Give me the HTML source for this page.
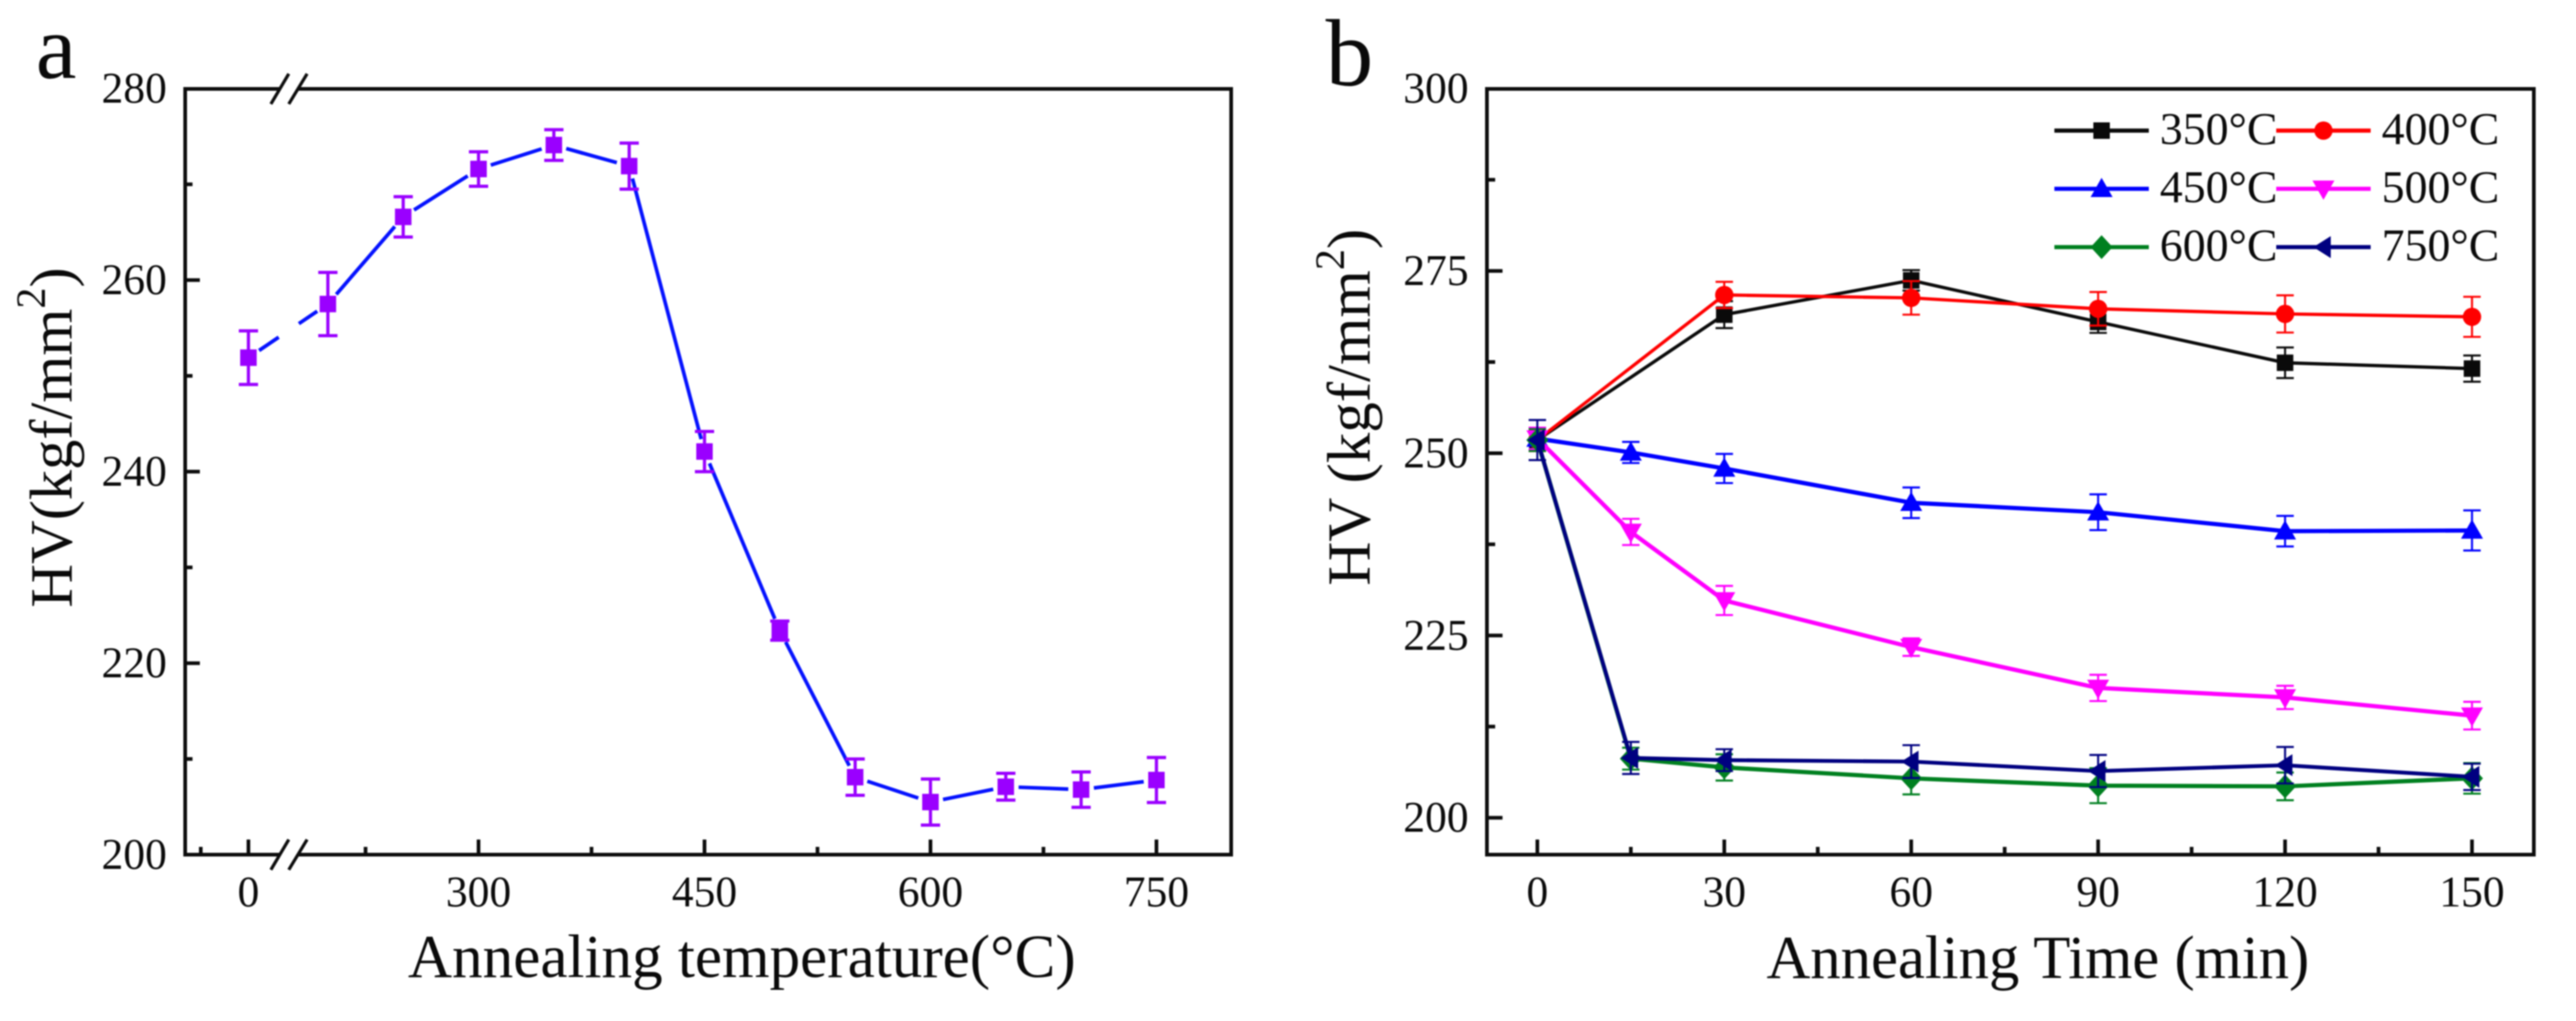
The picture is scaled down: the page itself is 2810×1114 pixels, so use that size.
<!DOCTYPE html>
<html lang="en">
<head>
<meta charset="utf-8">
<title>HV hardness vs annealing temperature and time</title>
<style>
html,body{margin:0;padding:0;background:#fff;width:2810px;height:1114px;overflow:hidden}
svg{display:block;filter:blur(0.7px)}
text{font-family:"Liberation Serif",serif;fill:#0a0a0a}
</style>
</head>
<body>
<svg id="figure" xmlns="http://www.w3.org/2000/svg" width="2810" height="1114" viewBox="0 0 2810 1114">
  <rect width="2810" height="1114" fill="#fff"/>
  <text x="39" y="85" font-size="100">a</text>
  <text x="1446" y="93" font-size="104">b</text>
  <text x="445" y="1066" font-size="66.7">Annealing temperature(°C)</text>
  <text x="1927" y="1067" font-size="66.2">Annealing Time (min)</text>
  <text transform="translate(78 663) rotate(-90)" font-size="66">HV(kgf/mm<tspan font-size="46" dy="-29">2</tspan><tspan dy="29">)</tspan></text>
  <text transform="translate(1494 639) rotate(-90)" font-size="66.5">HV (kgf/mm<tspan font-size="46" dy="-28">2</tspan><tspan dy="28">)</tspan></text>
  <g id="panel-a"></g>
  <g id="panel-b"></g>
</svg>
<script>
// ---- Panel a data ----
const tempCategories = [0, 200, 250, 300, 350, 400, 450, 500, 550, 600, 650, 700, 750];
const tempValues = [251.9, 257.5, 266.6, 271.6, 274.1, 271.9, 242.1, 223.4, 208.1, 205.5, 207.1, 206.8, 207.8];
const tempErrors = [2.8, 3.3, 2.1, 1.8, 1.6, 2.4, 2.1, 1.0, 1.9, 2.4, 1.4, 1.85, 2.35];
const tempYTickLabels = [200, 220, 240, 260, 280];
const tempYMinorTicks = [210, 230, 250, 270];
const tempXTickLabels = [0, 300, 450, 600, 750];
const tempXMinorTicks = [-75, 225, 375, 525, 675];

// ---- Panel b data ----
const seriesNames = ['350°C', '400°C', '450°C', '500°C', '600°C', '750°C'];
const times350 = [0, 30, 60, 90, 120, 150];
const values350 = [251.8, 269.0, 273.7, 268.0, 262.4, 261.6];
const errors350 = [1.5, 1.85, 1.4, 1.5, 2.1, 1.8];
const times400 = [0, 30, 60, 90, 120, 150];
const values400 = [251.8, 271.7, 271.3, 269.8, 269.1, 268.7];
const errors400 = [1.5, 1.8, 2.3, 2.3, 2.55, 2.75];
const times450 = [0, 15, 30, 60, 90, 120, 150];
const values450 = [252.0, 250.1, 247.9, 243.2, 241.9, 239.3, 239.4];
const errors450 = [1.5, 1.45, 2.0, 2.1, 2.45, 2.1, 2.75];
const times500 = [0, 15, 30, 60, 90, 120, 150];
const values500 = [252.0, 239.2, 229.8, 223.4, 217.8, 216.5, 214.0];
const errors500 = [1.5, 1.8, 2.0, 1.2, 1.8, 1.6, 1.9];
const times600 = [0, 15, 30, 60, 90, 120, 150];
const values600 = [251.8, 208.1, 206.9, 205.4, 204.4, 204.3, 205.4];
const errors600 = [1.5, 1.5, 1.8, 2.2, 2.4, 1.9, 2.1];
const times750 = [0, 15, 30, 60, 90, 120, 150];
const values750 = [251.8, 208.2, 207.9, 207.7, 206.4, 207.2, 205.6];
const errors750 = [2.75, 2.2, 1.5, 2.25, 2.2, 2.5, 1.8];
const timeYTickLabels = [200, 225, 250, 275, 300];
const timeYMinorTicks = [212.5, 237.5, 262.5, 287.5];
const timeXTickLabels = [0, 30, 60, 90, 120, 150];
const timeXMinorTicks = [15, 45, 75, 105, 135];

// ---- Axis functions ----
const NS = 'http://www.w3.org/2000/svg';
function xA(v) { return v < 100 ? 271 + v * 0.6933 : 522 + (v - 300) * 1.6433; }
function yA(v) { return 932.6 - (v - 200) * 10.45; }
function xB(v) { return 1677 + v * 6.797; }
function yB(v) { return 892.2 - (v - 200) * 7.955; }

function make(parent, tag, attrs, text) {
  const node = document.createElementNS(NS, tag);
  for (const k in attrs) node.setAttribute(k, attrs[k]);
  if (text !== undefined) node.textContent = text;
  parent.appendChild(node);
  return node;
}
function drawLine(parent, x1, y1, x2, y2, color, width, name) {
  const el = make(parent, 'line', { x1: x1, y1: y1, x2: x2, y2: y2, stroke: color, 'stroke-width': width });
  
  
  return el;
}
function drawLabel(parent, x, y, content, anchor, size, name) {
  const el = make(parent, 'text', { x: x, y: y, 'text-anchor': anchor, 'font-size': size }, content);
  
  
  return el;
}
function drawMarker(parent, kind, cx, cy, color, name) {
  let el;
  if (kind === 'square') {
    el = make(parent, 'rect', { x: cx - 9, y: cy - 9, width: 18, height: 18, fill: color });
  } else if (kind === 'circle') {
    el = make(parent, 'circle', { cx: cx, cy: cy, r: 10, fill: color });
  } else {
    const shapes = {
      up: [[0, -12], [12, 9], [-12, 9]],
      down: [[0, 12], [12, -9], [-12, -9]],
      diamond: [[0, -13], [12, 0], [0, 13], [-12, 0]],
      left: [[-11, 0], [8, -12], [8, 12]]
    };
    const pts = shapes[kind].map(function (p) { return (cx + p[0]) + ',' + (cy + p[1]); }).join(' ');
    el = make(parent, 'polygon', { points: pts, fill: color });
  }
  
  
  return el;
}
function drawFrame(parent, left, top, right, bottom, prefix) {
  const el = make(parent, 'rect', { x: left, y: top, width: right - left, height: bottom - top, fill: 'none', stroke: '#0c0c0c', 'stroke-width': 4 });
  
  
}

// ---- Panel a ----
const panelA = document.getElementById('panel-a');
drawFrame(panelA, 202, 97, 1343, 932.5, 'panel-a');
tempYTickLabels.forEach(function (v) {
  if (v !== 200 && v !== 280) drawLine(panelA, 202, yA(v), 218, yA(v), '#0c0c0c', 4, 'panel-a-y-major-tick');
  drawLabel(panelA, 182, yA(v) + 15.5, String(v), 'end', 47.5, 'panel-a-y-tick-label');
});
tempYMinorTicks.forEach(function (v) {
  drawLine(panelA, 202, yA(v), 210, yA(v), '#0c0c0c', 4, 'panel-a-y-minor-tick');
});
tempXTickLabels.forEach(function (v) {
  drawLine(panelA, xA(v), 932.5, xA(v), 916, '#0c0c0c', 4, 'panel-a-x-major-tick');
  drawLabel(panelA, xA(v), 989, String(v), 'middle', 47.5, 'panel-a-x-tick-label');
});
tempXMinorTicks.forEach(function (v) {
  drawLine(panelA, xA(v), 932.5, xA(v), 924, '#0c0c0c', 4, 'panel-a-x-minor-tick');
});
// axis break marks (top and bottom spine)
[[97, 'top'], [932.5, 'bottom']].forEach(function (spine) {
  const ySp = spine[0];
  const mask = make(panelA, 'rect', { x: 305, y: ySp - 4, width: 20, height: 8, fill: '#fff' });
  
  
  drawLine(panelA, 295.5, ySp + 16.5, 315, ySp - 16.5, '#0c0c0c', 3.5, 'axis-break-slash');
  drawLine(panelA, 315, ySp + 16.5, 335, ySp - 16.5, '#0c0c0c', 3.5, 'axis-break-slash');
});
// connecting line with gaps around markers and across the axis break
const breakFrom = 304, breakTo = 326, markerGap = 14;
for (let i = 0; i < tempCategories.length - 1; i++) {
  const x0 = xA(tempCategories[i]), y0 = yA(tempValues[i]);
  const x1 = xA(tempCategories[i + 1]), y1 = yA(tempValues[i + 1]);
  const len = Math.hypot(x1 - x0, y1 - y0);
  const ux = (x1 - x0) / len, uy = (y1 - y0) / len;
  const sx = x0 + ux * markerGap, sy = y0 + uy * markerGap;
  const ex = x1 - ux * markerGap, ey = y1 - uy * markerGap;
  if (x0 < breakFrom && x1 > breakTo) {
    const by0 = y0 + (breakFrom - x0) * (y1 - y0) / (x1 - x0);
    const by1 = y0 + (breakTo - x0) * (y1 - y0) / (x1 - x0);
    drawLine(panelA, sx, sy, breakFrom, by0, '#0512ff', 4, 'temperature-line-segment');
    drawLine(panelA, breakTo, by1, ex, ey, '#0512ff', 4, 'temperature-line-segment');
  } else {
    drawLine(panelA, sx, sy, ex, ey, '#0512ff', 4, 'temperature-line-segment');
  }
}
tempCategories.forEach(function (t, i) {
  const cx = xA(t), cy = yA(tempValues[i]);
  const top = yA(tempValues[i] + tempErrors[i]), bot = yA(tempValues[i] - tempErrors[i]);
  drawLine(panelA, cx, top, cx, bot, '#9a00ff', 3.5, 'temperature-error-bar');
  drawLine(panelA, cx - 10.5, top, cx + 10.5, top, '#9a00ff', 3.5, 'temperature-error-cap');
  drawLine(panelA, cx - 10.5, bot, cx + 10.5, bot, '#9a00ff', 3.5, 'temperature-error-cap');
  drawMarker(panelA, 'square', cx, cy, '#9a00ff', 'temperature-point');
});

// ---- Panel b ----
const panelB = document.getElementById('panel-b');
drawFrame(panelB, 1622, 97, 2764, 932.5, 'panel-b');
timeYTickLabels.forEach(function (v) {
  if (v !== 300) drawLine(panelB, 1622, yB(v), 1639, yB(v), '#0c0c0c', 4, 'panel-b-y-major-tick');
  drawLabel(panelB, 1602, yB(v) + 15.5, String(v), 'end', 47.5, 'panel-b-y-tick-label');
});
timeYMinorTicks.forEach(function (v) {
  drawLine(panelB, 1622, yB(v), 1631, yB(v), '#0c0c0c', 4, 'panel-b-y-minor-tick');
});
timeXTickLabels.forEach(function (v) {
  drawLine(panelB, xB(v), 932.5, xB(v), 916, '#0c0c0c', 4, 'panel-b-x-major-tick');
  drawLabel(panelB, xB(v), 989, String(v), 'middle', 47.5, 'panel-b-x-tick-label');
});
timeXMinorTicks.forEach(function (v) {
  drawLine(panelB, xB(v), 932.5, xB(v), 924, '#0c0c0c', 4, 'panel-b-x-minor-tick');
});

const seriesColors = ['#0a0a0a', '#ff0000', '#0000ff', '#ff00ff', '#008020', '#000080'];
const seriesMarkers = ['square', 'circle', 'up', 'down', 'diamond', 'left'];
const seriesLineWidths = [3.6, 3.6, 4.6, 4.6, 4.6, 4.2];
const seriesTimes = [times350, times400, times450, times500, times600, times750];
const seriesValues = [values350, values400, values450, values500, values600, values750];
const seriesErrors = [errors350, errors400, errors450, errors500, errors600, errors750];

seriesNames.forEach(function (name, s) {
  const color = seriesColors[s];
  const group = make(panelB, 'g', {});
  
  
  const ts = seriesTimes[s], vs = seriesValues[s], es = seriesErrors[s];
  ts.forEach(function (t, i) {
    const cx = xB(t), top = yB(vs[i] + es[i]), bot = yB(vs[i] - es[i]);
    drawLine(group, cx, top, cx, bot, color, 2.2, 'time-error-bar');
    drawLine(group, cx - 9.5, top, cx + 9.5, top, color, 2.2, 'time-error-cap');
    drawLine(group, cx - 9.5, bot, cx + 9.5, bot, color, 2.2, 'time-error-cap');
  });
  const path = make(group, 'polyline', {
    points: ts.map(function (t, i) { return xB(t) + ',' + yB(vs[i]); }).join(' '),
    fill: 'none', stroke: color, 'stroke-width': seriesLineWidths[s], 'stroke-linejoin': 'round'
  });
  
  
  ts.forEach(function (t, i) {
    drawMarker(group, seriesMarkers[s], xB(t), yB(vs[i]), color, 'time-series-point');
  });
});

// ---- Legend ----
const legend = make(panelB, 'g', {});


const legendRowY = [142.5, 206, 269.6];
const legendColX = [2241, 2483];
seriesNames.forEach(function (name, s) {
  const col = s % 2, row = Math.floor(s / 2);
  const lx = legendColX[col], ly = legendRowY[row];
  const entry = make(legend, 'g', {});
  
  
  drawLine(entry, lx, ly, lx + 103, ly, seriesColors[s], 4.5, 'legend-line');
  drawMarker(entry, seriesMarkers[s], lx + 51.5, ly, seriesColors[s], 'legend-marker');
  drawLabel(entry, lx + 115, ly + 14.5, name, 'start', 50, 'legend-label');
});
</script>
</body>
</html>
